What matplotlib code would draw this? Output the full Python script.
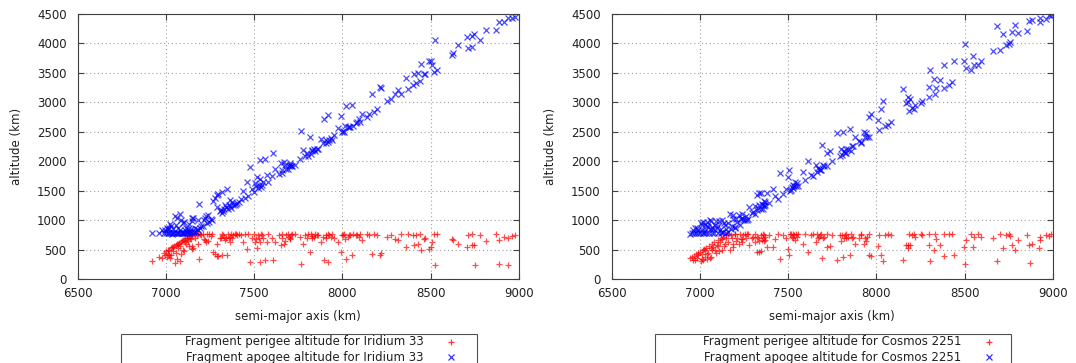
"""Perigee / apogee altitude vs semi-major axis for the 2009 collision debris."""
import matplotlib

matplotlib.use("Agg")
import matplotlib.pyplot as plt
from matplotlib.lines import Line2D
from matplotlib.patches import Rectangle

# Iridium 33 fragments: semi-major axis, perigee and apogee altitude (km)
iridium_sma = [
    6921, 6977, 6987, 7000, 7005, 7010, 7015, 7020, 7025, 7030,
    7034, 7040, 7045, 7050, 7055, 7060, 7065, 7070, 7075, 7081,
    7085, 7090, 7095, 7100, 7105, 7110, 7115, 7120, 7125, 7130,
    7135, 7140, 7147, 7150, 7155, 7160, 7165, 7170, 7175, 7180,
    7190, 7195, 7200, 7210, 7215, 7222, 7230, 7240, 7245, 7255,
    7260, 7269, 7278, 7288, 7297, 7305, 7316, 7320, 7330, 7335,
    7344, 7350, 7355, 7363, 7370, 7380, 7390, 7400, 7438, 7447,
    7457, 7476, 7490, 7500, 7505, 7513, 7520, 7532, 7540, 7550,
    7560, 7570, 7607, 7620, 7640, 7650, 7660, 7670, 7680, 7690,
    7700, 7710, 7767, 7775, 7790, 7800, 7814, 7820, 7830, 7845,
    7880, 7889, 7898, 7907, 7917, 7926, 7972, 7991, 7995, 8009,
    8019, 8037, 8056, 8074, 8093, 8111, 8139, 8150, 8167, 8194,
    8213, 8220, 8250, 8296, 8315, 8333, 8361, 8370, 8398, 8407,
    8415, 8426, 8444, 8463, 8491, 8500, 8509, 8518, 8525, 8535,
    8620, 8628, 8657, 8704, 8713, 8731, 8735, 8745, 8750, 8778,
    8815, 8870, 8889, 8889, 8917, 8940, 8935, 8975, 8960, 7415,
    7425, 7465, 7580, 7600, 7730, 7760, 7860, 7940, 7950, 8030,
    8060, 8100, 8180, 8275, 8440, 8470, 6960, 6995, 7012, 7028,
    7042, 7058, 7068, 7078, 7088, 7098, 7108, 7118, 7128, 7138,
    7145,
    7310, 7325, 7340, 7360, 7375, 7395, 7510, 7525, 7535, 7545,
    7655, 7675, 7695, 7705, 7715, 7805, 7825, 7840, 7855, 7905,
    7920, 7935, 8005, 8015, 8045, 8085, 7180, 7225, 7290,
]
iridium_perigee = [
    302, 364, 440, 470, 380, 420, 403, 500, 360, 520,
    545, 470, 560, 270, 580, 335, 600, 520, 610, 300,
    630, 640, 490, 660, 480, 680, 600, 700, 640, 720,
    700, 680, 510, 560, 520, 760, 700, 780, 750, 770,
    345, 760, 740, 770, 680, 659, 760, 640, 770, 730,
    760, 460, 430, 386, 390, 700, 403, 760, 720, 659,
    403, 760, 700, 630, 770, 740, 760, 750, 630, 760,
    517, 290, 700, 760, 620, 530, 740, 290, 760, 700,
    330, 620, 318, 620, 740, 580, 760, 600, 740, 760,
    700, 740, 261, 600, 740, 700, 460, 760, 730, 760,
    630, 716, 318, 744, 290, 744, 630, 460, 744, 772,
    346, 744, 403, 744, 716, 659, 772, 740, 431, 744,
    403, 440, 716, 687, 659, 761, 545, 761, 744, 574,
    744, 602, 488, 687, 517, 540, 630, 772, 244, 770,
    687, 670, 590, 540, 744, 761, 580, 570, 244, 744,
    648, 761, 659, 261, 716, 245, 690, 740, 730, 770,
    740, 770, 760, 700, 770, 720, 750, 760, 700, 720,
    760, 770, 760, 740, 760, 700, 380, 400, 484, 400,
    548, 450, 596, 560, 420, 656, 620, 690, 560, 736,
    740,
    690, 740, 700, 720, 690, 760, 680, 700, 620, 740,
    700, 650, 720, 680, 760, 760, 700, 720, 740, 700,
    760, 720, 740, 680, 750, 740, 600, 620, 600,
]
iridium_apogee = [
    784, 834, 778, 774, 874, 844, 871, 784, 934, 784,
    767, 854, 774, 1074, 774, 1029, 774, 864, 784, 1106,
    784, 784, 944, 784, 974, 784, 874, 784, 854, 784,
    814, 844, 1028, 984, 1034, 804, 874, 804, 844, 834,
    1279, 874, 904, 894, 994, 1029, 944, 1084, 964, 1024,
    1004, 1322, 1370, 1434, 1448, 1154, 1473, 1124, 1184, 1255,
    1529, 1184, 1254, 1340, 1214, 1264, 1264, 1294, 1490, 1378,
    1641, 1906, 1524, 1484, 1634, 1740, 1544, 2018, 1564, 1644,
    2034, 1764, 2140, 1864, 1784, 1964, 1804, 1984, 1864, 1864,
    1944, 1924, 2517, 2194, 2084, 2144, 2412, 2124, 2174, 2174,
    2374, 2306, 2722, 2314, 2788, 2352, 2558, 2766, 2490, 2490,
    2936, 2574, 2953, 2648, 2714, 2807, 2750, 2804, 3147, 2888,
    3267, 3244, 3028, 3149, 3215, 3149, 3421, 3223, 3296, 3484,
    3330, 3494, 3644, 3483, 3709, 3704, 3632, 3508, 4050, 3544,
    3797, 3830, 3968, 4112, 3926, 3945, 4134, 4164, 4600, 4056,
    4226, 4223, 4363, 4761, 4362, 4879, 4424, 4454, 4434, 1304,
    1354, 1404, 1644, 1744, 1934, 2044, 2214, 2364, 2444, 2584,
    2604, 2674, 2844, 3054, 3364, 3484, 784, 834, 784, 900,
    780, 910, 784, 840, 1000, 784, 840, 790, 940, 784,
    794,
    1174, 1154, 1224, 1244, 1304, 1274, 1584, 1594, 1694, 1594,
    1854, 1944, 1914, 1974, 1914, 2094, 2194, 2204, 2214, 2354,
    2324, 2394, 2514, 2594, 2584, 2674, 1004, 1074, 1224,
]

# Cosmos 2251 fragments
cosmos_sma = [
    6943, 6953, 6960, 6972, 6980, 6991, 7000, 7005, 7009, 7015,
    7019, 7025, 7028, 7035, 7038, 7045, 7050, 7057, 7062, 7066,
    7070, 7075, 7080, 7086, 7094, 7100, 7105, 7113, 7118, 7123,
    7126, 7132, 7140, 7150, 7160, 7170, 7175, 7189, 7198, 7210,
    7226, 7230, 7236, 7245, 7255, 7264, 7280, 7292, 7302, 7311,
    7321, 7334, 7344, 7349, 7358, 7368, 7377, 7390, 7411, 7425,
    7440, 7453, 7472, 7488, 7500, 7507, 7510, 7520, 7528, 7538,
    7545, 7557, 7585, 7595, 7613, 7630, 7642, 7660, 7670, 7679,
    7690, 7700, 7717, 7738, 7750, 7774, 7793, 7800, 7812, 7821,
    7830, 7849, 7855, 7868, 7880, 7901, 7915, 7930, 7945, 7959,
    7968, 8007, 8015, 8026, 8036, 8050, 8064, 8151, 8165, 8176,
    8180, 8185, 8189, 8200, 8218, 8257, 8295, 8305, 8300, 8324,
    8340, 8360, 8381, 8385, 8429, 8439, 8497, 8502, 8505, 8535,
    8545, 8555, 8574, 8593, 8660, 8680, 8718, 8733, 8750, 8756,
    8766, 8785, 8804, 8852, 8862, 8871, 8919, 8929, 8924, 8958,
    8977, 8990, 7720, 7960, 8080, 8210, 8250, 8330, 8410, 8700,
    8880, 6965, 6985, 7030, 7090, 7110, 7135, 7145, 7185, 7200,
    7220, 7240, 7260, 7270, 7325, 7335, 7355, 7365,
    7310, 7330, 7345, 7360, 7370, 7515, 7525, 7535, 7550, 7665,
    7675, 7685, 7695, 7805, 7815, 7825, 7840, 7860, 7910, 7935,
    7940, 6990, 7010, 7040, 7060, 7160, 7180, 7205,
]
cosmos_perigee = [
    358, 375, 330, 318, 420, 440, 460, 300, 432, 490,
    318, 510, 488, 530, 346, 450, 560, 360, 520, 488,
    600, 545, 620, 500, 574, 660, 560, 630, 700, 687,
    488, 716, 600, 700, 760, 488, 744, 540, 772, 700,
    772, 680, 687, 740, 760, 772, 582, 700, 716, 620,
    460, 460, 470, 660, 772, 670, 545, 740, 543, 687,
    760, 346, 744, 700, 517, 413, 772, 720, 760, 667,
    760, 772, 602, 760, 460, 740, 772, 630, 700, 744,
    356, 720, 545, 554, 740, 318, 744, 640, 375, 744,
    700, 403, 772, 716, 600, 700, 740, 600, 720, 413,
    384, 554, 740, 413, 300, 740, 760, 328, 580, 582,
    520, 760, 571, 740, 720, 740, 582, 300, 760, 497,
    680, 580, 760, 384, 760, 413, 543, 254, 667, 760,
    543, 720, 760, 720, 695, 300, 526, 740, 760, 725,
    582, 497, 667, 740, 582, 271, 526, 667, 720, 750,
    723, 760, 760, 760, 740, 770, 760, 760, 770, 760,
    600, 390, 350, 380, 440, 480, 560, 750, 600, 760,
    600, 620, 700, 760, 720, 650, 700, 740,
    760, 700, 740, 640, 720, 760, 700, 740, 720, 760,
    720, 760, 700, 740, 700, 760, 720, 700, 760, 700,
    650, 400, 340, 420, 380, 620, 700, 640,
]
cosmos_apogee = [
    772, 775, 834, 870, 784, 786, 784, 954, 830, 784,
    964, 784, 812, 784, 974, 884, 784, 998, 848, 888,
    784, 849, 784, 916, 858, 784, 894, 840, 780, 803,
    1008, 792, 924, 844, 804, 1096, 850, 1082, 868, 964,
    924, 1024, 1029, 994, 994, 1000, 1222, 1128, 1132, 1246,
    1426, 1452, 1462, 1282, 1188, 1310, 1453, 1284, 1523, 1407,
    1364, 1804, 1444, 1520, 1727, 1845, 1492, 1564, 1540, 1653,
    1574, 1586, 1812, 1674, 2010, 1764, 1756, 1934, 1884, 1858,
    2268, 1924, 2133, 2166, 2004, 2474, 2086, 2204, 2493, 2142,
    2204, 2539, 2182, 2264, 2404, 2346, 2334, 2504, 2414, 2749,
    2796, 2704, 2534, 2883, 3016, 2604, 2612, 3218, 2994, 3014,
    3084, 2854, 3051, 2904, 2960, 3018, 3252, 3554, 3084, 3395,
    3244, 3384, 3246, 3630, 3342, 3709, 3695, 3994, 3587, 3554,
    3791, 3634, 3632, 3710, 3869, 4304, 4154, 3970, 3984, 4031,
    4194, 4317, 4185, 4208, 4386, 4715, 4556, 4435, 4372, 4410,
    4475, 4464, 1924, 2404, 2664, 2894, 2984, 3144, 3294, 3884,
    4404, 784, 864, 924, 984, 984, 954, 784, 1014, 884,
    1084, 1104, 1064, 1024, 1174, 1264, 1254, 1234,
    1104, 1204, 1194, 1324, 1264, 1514, 1594, 1574, 1624, 1814,
    1874, 1854, 1934, 2114, 2174, 2134, 2204, 2264, 2304, 2414,
    2474, 824, 924, 904, 984, 944, 904, 1014,
]

x_ticks = [6500, 7000, 7500, 8000, 8500, 9000]
y_ticks = [0, 500, 1000, 1500, 2000, 2500, 3000, 3500, 4000, 4500]

RED = "#ff0000"
BLUE = "#0000ff"
FRAME = "#404040"
FS = 8.5

W, H = 1076, 363
plt.rcParams["font.family"] = "DejaVu Sans"


def px(x, y):
    """pixel position -> figure fraction"""
    return x / W, 1 - y / H


def panel(fig, left, sma, perigee, apogee, name):
    ax = fig.add_axes([left / W, 84 / H, 441.3 / W, 265 / H])
    ax.plot(sma, perigee, ls="none", marker="+", ms=5, mew=0.9, color=RED, alpha=0.7)
    ax.plot(sma, apogee, ls="none", marker="x", ms=4.5, mew=0.9, color=BLUE, alpha=0.7)
    ax.set_xlim(6500, 9000)
    ax.set_ylim(0, 4500)
    ax.set_xticks(x_ticks)
    ax.set_yticks(y_ticks)
    ax.grid(True, color="#a0a0a0", lw=0.8, ls=(0, (1, 2.5)))
    ax.set_axisbelow(True)
    for s in ax.spines.values():
        s.set_color(FRAME)
        s.set_linewidth(0.8)
    ax.tick_params(direction="in", length=4, width=0.8, color=FRAME,
                   top=True, right=True, labelsize=FS, labelcolor="#202020")
    ax.tick_params(axis="x", pad=6)
    ax.tick_params(axis="y", pad=8)

    cx = left + 441.3 / 2
    fig.text(*px(cx, 316.5), "semi-major axis (km)", ha="center", va="center",
             fontsize=FS, color="#202020")
    fig.text(*px(left - 61, 146.5), "altitude (km)", ha="center", va="center",
             rotation=90, fontsize=FS, color="#202020")

    # key box below the plot, running off the bottom edge
    bx0, bx1 = left + 43, left + 399
    x0, y0 = px(bx0, 334)
    x1, _ = px(bx1, 334)
    fig.patches.append(Rectangle((x0, -0.05), x1 - x0, y0 + 0.05, transform=fig.transFigure,
                                 fill=False, ec="#505050", lw=0.8))
    tx = left + 346 if name == "Iridium 33" else left + 350
    mx = tx + 27
    for yy, label, mk, col, ms in [(342, "perigee", "+", RED, 5), (357, "apogee", "x", BLUE, 4.5)]:
        fig.text(*px(tx, yy), f"Fragment {label} altitude for {name}", ha="right",
                 va="center", fontsize=FS, color="#202020")
        fig.lines.append(Line2D([mx / W], [1 - yy / H], transform=fig.transFigure,
                                ls="none", marker=mk, ms=ms, mew=0.9, color=col, alpha=0.8))
    return ax


fig = plt.figure(figsize=(W / 100, H / 100), dpi=100)
panel(fig, 77.7, iridium_sma, iridium_perigee, iridium_apogee, "Iridium 33")
panel(fig, 611.7, cosmos_sma, cosmos_perigee, cosmos_apogee, "Cosmos 2251")
fig.savefig("out.png", dpi=100)
plt.close(fig)
